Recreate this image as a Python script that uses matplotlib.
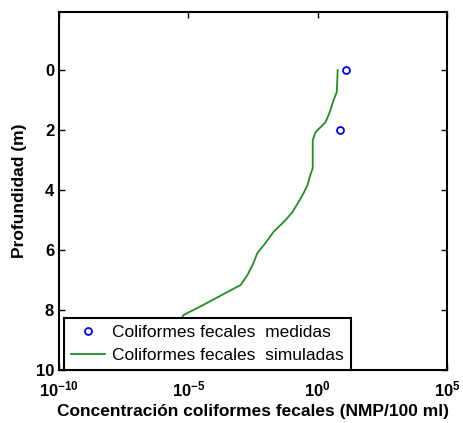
import numpy as np
import matplotlib.pyplot as plt

plt.rcParams['font.family'] = ['Liberation Sans', 'DejaVu Sans']
plt.rcParams['mathtext.fontset'] = 'custom'
plt.rcParams['mathtext.bf'] = 'Liberation Sans:bold'
plt.rcParams['mathtext.rm'] = 'Liberation Sans'

# medidas
prof_med = [0, 2]
cf_med = [12.2, 7.1]

# simuladas (log10 de la concentracion)
prof_sim = [0, 0.73, 0.9, 1.1, 1.4, 1.73, 1.9, 2.07, 2.33, 3.27, 3.57, 3.83, 4.1,
            4.4, 4.73, 5.0, 5.4, 5.77, 6.1, 6.43, 6.83, 7.17, 7.4, 7.83, 8.17, 9.0, 10.0]
logcf_sim = [0.775, 0.74, 0.66, 0.58, 0.47, 0.31, 0.12, -0.08, -0.19, -0.19, -0.31,
             -0.39, -0.54, -0.74, -0.97, -1.24, -1.71, -2.02, -2.33, -2.48, -2.71,
             -2.98, -3.49, -4.42, -5.19, -5.7, -6.28]
cf_sim = 10.0 ** np.array(logcf_sim)

xticks = [1e-10, 1e-5, 1e0, 1e5]
xticklabels = [r'$\mathbf{10^{-10}}$', r'$\mathbf{10^{-5}}$', r'$\mathbf{10^{0}}$', r'$\mathbf{10^{5}}$']
yticks = [0, 2, 4, 6, 8, 10]

fig = plt.figure(figsize=(4.63, 4.23), dpi=100)
ax = fig.add_axes([0.1274, 0.1253, 0.838, 0.846])

ax.semilogx(cf_med, prof_med, 'o', mfc='none', mec='blue', ms=5, mew=1.3,
            label='Coliformes fecales  medidas')
ax.semilogx(cf_sim, prof_sim, '-', color='#1f8f1f', lw=1.3,
            label='Coliformes fecales  simuladas')

ax.set_xlim(1e-10, 1e5)
ax.set_ylim(10, -1.93)
ax.set_xticks(xticks)
ax.set_xticklabels(xticklabels, fontsize=12)
ax.minorticks_off()
ax.set_yticks(yticks)
ax.set_yticklabels([str(t) for t in yticks], fontsize=12, fontweight='bold')
ax.tick_params(direction='in', top=True, right=True, length=4, width=1)
ax.tick_params(axis='x', pad=7)
for s in ax.spines.values():
    s.set_linewidth(1.5)

ax.set_xlabel('Concentración coliformes fecales (NMP/100 ml)', fontsize=12.5,
              fontweight='bold', labelpad=3)
ax.set_ylabel('Profundidad (m)', fontsize=12.5, fontweight='bold', labelpad=6)

leg = ax.legend(loc='lower left', bbox_to_anchor=(0.012, 0.0), fontsize=12.5,
                frameon=True, fancybox=False, framealpha=1, edgecolor='black',
                borderaxespad=0, handlelength=2.0, handletextpad=0.4,
                borderpad=0.4, labelspacing=0.45)
leg.get_frame().set_linewidth(1.5)

fig.savefig('out.png', dpi=100)
